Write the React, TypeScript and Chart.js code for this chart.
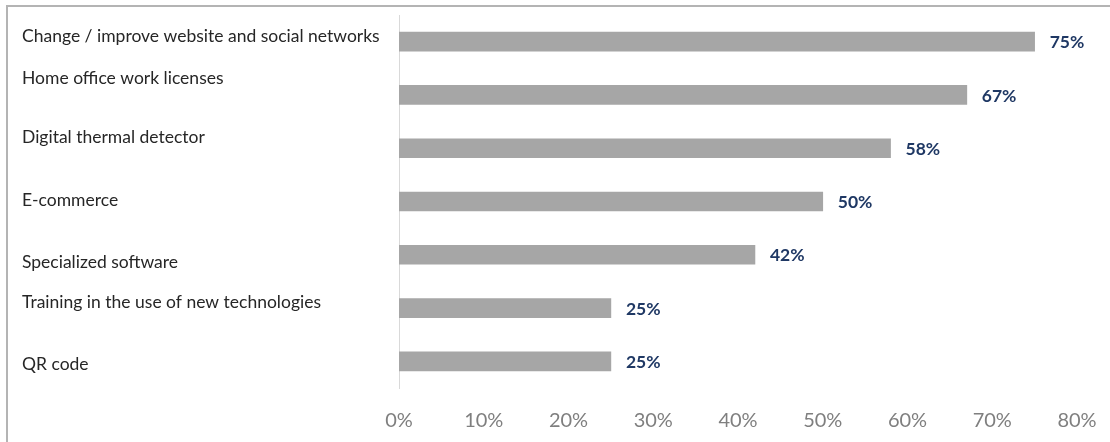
import React, { useEffect, useRef } from "react";
import { Chart, registerables } from "chart.js";

Chart.register(...registerables);

const categories = [
  "Change / improve website and social networks",
  "Home office work licenses",
  "Digital thermal detector",
  "E-commerce",
  "Specialized software",
  "Training in the use of new technologies",
  "QR code",
];
const values = [75, 67, 58, 50, 42, 25, 25];
const xTicks = [0, 10, 20, 30, 40, 50, 60, 70, 80];

// vertical offset (px) of each category label baseline relative to its bar centre
const labelBaselineOffsets = [0, -11, -5, 4, 13, 0, 9];

const framePlugin = {
  id: "frame",
  beforeDraw(chart: any) {
    const ctx = chart.ctx;
    ctx.save();
    ctx.fillStyle = "#b4b4b4";
    ctx.fillRect(6, 5, chart.width - 6, 2);
    ctx.fillRect(6, 5, 2, chart.height - 5);
    ctx.restore();
  },
};

const labelsPlugin = {
  id: "sideLabels",
  afterDatasetsDraw(chart: any) {
    const ctx = chart.ctx;
    const meta = chart.getDatasetMeta(0);
    ctx.save();
    meta.data.forEach((bar: any, i: number) => {
      ctx.font = "17.5px Lato";
      ctx.fillStyle = "#262626";
      ctx.textAlign = "left";
      ctx.textBaseline = "alphabetic";
      ctx.fillText(categories[i], 22, bar.y + labelBaselineOffsets[i]);

      ctx.font = "bold 17.5px Lato";
      ctx.fillStyle = "#1f3864";
      ctx.textBaseline = "middle";
      ctx.fillText(values[i] + "%", bar.x + 15, bar.y + 1);
    });
    ctx.restore();
  },
};

export default function App() {
  const ref = useRef<HTMLCanvasElement>(null);
  useEffect(() => {
    if (!ref.current) return;
    const chart = new Chart(ref.current, {
      type: "bar",
      data: {
        labels: categories,
        datasets: [
          {
            data: values,
            backgroundColor: "#a6a6a6",
            borderWidth: 0,
            barThickness: 19,
          },
        ],
      },
      options: {
        indexAxis: "y",
        animation: false,
        responsive: false,
        layout: { padding: { left: 399, right: 33, top: 15, bottom: 0 } },
        plugins: { legend: { display: false }, tooltip: { enabled: false } },
        scales: {
          x: {
            min: 0,
            max: 80,
            afterBuildTicks(scale: any) {
              scale.ticks = xTicks.map((v) => ({ value: v }));
            },
            afterFit(scale: any) {
              scale.height = 54;
              scale.paddingLeft = 0;
              scale.paddingRight = 0;
            },
            grid: { display: false, drawTicks: false },
            border: { display: false },
            ticks: {
              padding: 21,
              maxRotation: 0,
              color: "#7f7f7f",
              font: { family: "Lato", size: 20 },
              callback: (v: any) => v + "%",
            },
          },
          y: {
            grid: { display: false, drawTicks: false },
            border: { display: true, color: "#d9d9d9", width: 1 },
            ticks: { display: false },
          },
        },
      },
      plugins: [framePlugin, labelsPlugin],
    });
    return () => chart.destroy();
  }, []);
  return (
    <div style={{ position: "absolute", left: 0, top: 0 }}>
      <canvas ref={ref} width={1110} height={442} style={{ display: "block" }} />
    </div>
  );
}
